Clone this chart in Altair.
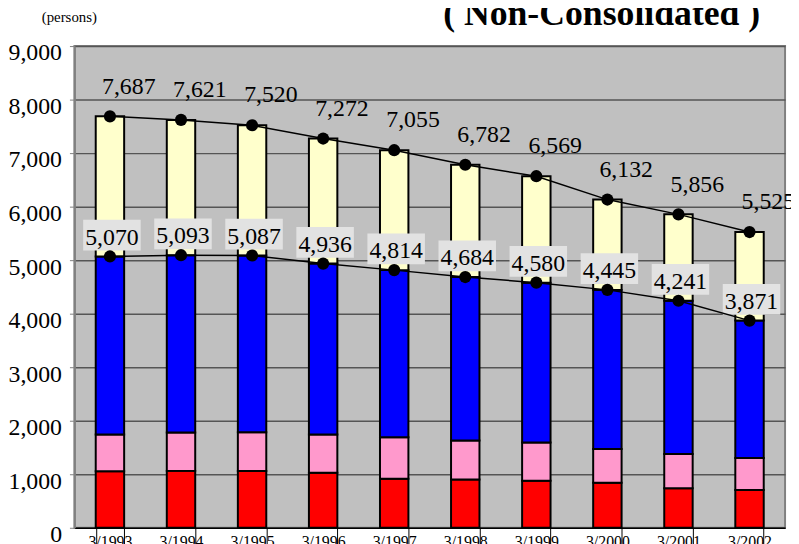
import altair as alt
import pandas as pd

years = ["3/1993", "3/1994", "3/1995", "3/1996", "3/1997",
         "3/1998", "3/1999", "3/2000", "3/2001", "3/2002"]
red = [1055, 1063, 1060, 1026, 915, 902, 878, 840, 740, 704]
pink = [686, 715, 725, 715, 778, 728, 715, 630, 638, 600]
blue_top = [5070, 5093, 5087, 4936, 4814, 4684, 4580, 4445, 4241, 3871]
total = [7687, 7621, 7520, 7272, 7055, 6782, 6569, 6132, 5856, 5525]

seg_names = ["s1", "s2", "s3", "s4"]
seg_colors = ["#FF0000", "#FF99CC", "#0000FF", "#FFFFCC"]

rows = []
for i, yr in enumerate(years):
    bounds = [0, red[i], red[i] + pink[i], blue_top[i], total[i]]
    for k, s in enumerate(seg_names):
        rows.append({"year": yr, "seg": s, "lo": bounds[k], "hi": bounds[k + 1]})
bars_df = pd.DataFrame(rows)
pts_df = pd.DataFrame({"year": years, "total": total, "mid": blue_top})

SERIF = "Liberation Serif"

x_scale = alt.Scale(paddingInner=0.6, paddingOuter=0.3)
x_axis = alt.Axis(title=None, labelAngle=0, tickBand="extent", tickSize=30,
                  tickColor="black", tickWidth=1, domainColor="black",
                  domainWidth=1.5, labelFont=SERIF, labelFontSize=16,
                  labelColor="black", labelPadding=-24, labelBaseline="top")
y_scale = alt.Scale(domain=[0, 9000], nice=False)
y_axis = alt.Axis(values=list(range(0, 9001, 1000)),
                  labelExpr="format(datum.value, ',')", title=None,
                  grid=True, gridColor="#555555", gridWidth=1.5,
                  tickColor="#808080", tickSize=5, domainColor="#808080",
                  domainWidth=2, labelFont=SERIF, labelFontSize=24,
                  labelColor="black", labelPadding=8, labelOffset=7)


def xq():
    return alt.X("year:N", sort=years, scale=x_scale, axis=x_axis)


def yq(field):
    return alt.Y(field, scale=y_scale, axis=y_axis)


bars = alt.Chart(bars_df).mark_bar(stroke="black", strokeWidth=2).encode(
    x=xq(),
    y=yq("lo:Q"),
    y2="hi:Q",
    color=alt.Color("seg:N", scale=alt.Scale(domain=seg_names, range=seg_colors), legend=None),
)

base = alt.Chart(pts_df).encode(x=xq())

box_path = "M-2.7,-3.7L3.1,-3.7L3.1,-0.6L-2.7,-0.6Z"
boxes = base.mark_point(shape=box_path, size=400, filled=True, fill="#E2E2E2",
                        strokeWidth=0, opacity=1).encode(y=yq("mid:Q"))

line_tot = base.mark_line(color="black", strokeWidth=1.5).encode(y=yq("total:Q"))
line_mid = base.mark_line(color="black", strokeWidth=1.5).encode(y=yq("mid:Q"))
pts_tot = base.mark_circle(size=150, color="black", opacity=1).encode(y=yq("total:Q"))
pts_mid = base.mark_circle(size=150, color="black", opacity=1).encode(y=yq("mid:Q"))

lab_tot = base.mark_text(font=SERIF, fontSize=24, dx=19, dy=-23, baseline="alphabetic",
                         color="black").encode(y=yq("total:Q"),
                                               text=alt.Text("total:Q", format=","))
lab_mid = base.mark_text(font=SERIF, fontSize=24, dx=2, dy=-12, baseline="alphabetic",
                         color="black").encode(y=yq("mid:Q"),
                                               text=alt.Text("mid:Q", format=","))

unit = alt.Chart(pd.DataFrame({"t": ["(persons)"]})).mark_text(
    font=SERIF, fontSize=15, align="left", baseline="alphabetic", color="black"
).encode(x=alt.value(-33), y=alt.value(-24), text="t:N")

title = alt.Chart(pd.DataFrame({"t": ["(\u00a0Non-Consolidated\u00a0)"]})).mark_text(
    font=SERIF, fontSize=36, fontWeight="bold", align="center", baseline="alphabetic", color="black"
).encode(x=alt.value(532), y=alt.value(-21), text="t:N")

chart = alt.layer(bars, boxes, line_tot, line_mid, pts_tot, pts_mid, lab_tot, lab_mid, unit, title).properties(
    width=717, height=486,
    autosize=alt.AutoSizeParams(type="none"),
    padding={"left": 67, "top": 36, "right": 6, "bottom": 20},
).configure_view(
    fill="#C0C0C0", stroke="#808080", strokeWidth=2
).configure_axis(
    labelFont=SERIF
).configure_text(font=SERIF)

chart.save("out.html", embed_options={"renderer": "svg", "actions": False})
